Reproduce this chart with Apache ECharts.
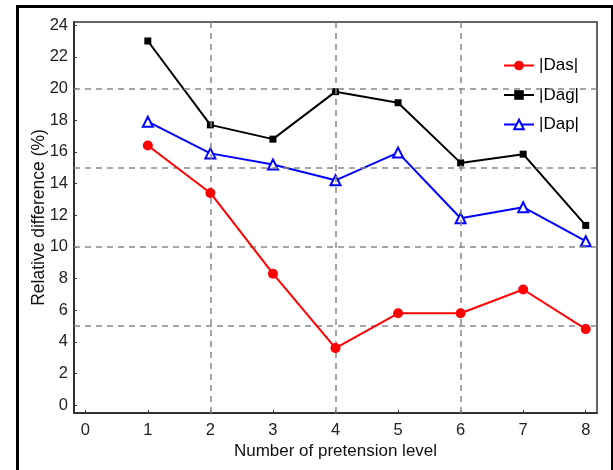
<!DOCTYPE html>
<html>
<head>
<meta charset="utf-8">
<script src="https://cdn.jsdelivr.net/npm/echarts@6/dist/echarts.min.js"></script>
<style>html,body{margin:0;padding:0;background:#fff;}#c{width:613px;height:470px;}</style>
</head>
<body>
<div id="c"></div>
<script>
const levels = [1, 2, 3, 4, 5, 6, 7, 8];
const das = [16.4, 13.4, 8.3, 3.6, 5.8, 5.8, 7.3, 4.8];
const dag = [23.0, 17.7, 16.8, 19.8, 19.1, 15.3, 15.85, 11.35];
const dap = [17.9, 15.9, 15.2, 14.2, 15.95, 11.8, 12.5, 10.35];
const gridX = [2, 4, 6];
const gridY = [5, 10, 15, 20];
const xTicks = [0, 1, 2, 3, 4, 5, 6, 7, 8];
const yTicks = [0, 2, 4, 6, 8, 10, 12, 14, 16, 18, 20, 22, 24];
const seriesNames = ['|Das|', '|Dag|', '|Dap|'];

const chart = echarts.init(document.getElementById('c'));
const pair = (arr) => levels.map((x, i) => [x, arr[i]]);
const font = 'Arial, "Liberation Sans", sans-serif';

chart.setOption({
  animation: false,
  backgroundColor: '#fff',
  graphic: [{
    type: 'rect', left: 15, top: 4, silent: true,
    shape: { width: 595, height: 480 },
    style: { fill: 'none', stroke: '#000', lineWidth: 3 }
  }],
  grid: { left: 74, top: 22, right: 16, bottom: 57, show: true, borderColor: '#333', borderWidth: 1.5, backgroundColor: 'transparent' },
  legend: {
    data: seriesNames, orient: 'vertical', left: 498, top: 52,
    itemWidth: 30, itemHeight: 12, itemGap: 12.5,
    textStyle: { fontFamily: font, fontSize: 17, color: '#000' }
  },
  xAxis: {
    type: 'value', min: -0.18, max: 8.18,
    name: 'Number of pretension level', nameLocation: 'middle', nameGap: 30, nameMoveOverlap: false,
    nameTextStyle: { fontFamily: font, fontSize: 17, color: '#111' },
    axisLine: { onZero: false, lineStyle: { color: '#333', width: 2 } },
    axisTick: { show: true, inside: true, length: 3, lineStyle: { color: '#333' }, customValues: xTicks },
    axisLabel: { fontFamily: font, fontSize: 16.5, color: '#222', margin: 9, customValues: xTicks },
    splitLine: { show: false }
  },
  yAxis: {
    type: 'value', min: -0.5, max: 24.2,
    name: 'Relative difference (%)', nameLocation: 'middle', nameGap: 26, nameMoveOverlap: false,
    nameTextStyle: { fontFamily: font, fontSize: 17.5, color: '#111' },
    axisLine: { onZero: false, lineStyle: { color: '#333', width: 2 } },
    axisTick: { show: true, inside: true, length: 3, lineStyle: { color: '#333' }, customValues: yTicks },
    axisLabel: { fontFamily: font, fontSize: 16.5, color: '#222', margin: 6, customValues: yTicks },
    splitLine: { show: false }
  },
  series: [
    {
      name: 'grid', type: 'line', data: [], silent: true,
      markLine: {
        silent: true, symbol: 'none', label: { show: false },
        lineStyle: { type: [6, 5], color: '#888', width: 1.5 },
        data: gridX.map(v => ({ xAxis: v })).concat(gridY.map(v => ({ yAxis: v })))
      }
    },
    {
      name: seriesNames[0], type: 'line', data: pair(das),
      symbol: 'circle', symbolSize: 10,
      itemStyle: { color: '#ff0000' }, lineStyle: { width: 2, color: '#ff0000' }, z: 5
    },
    {
      name: seriesNames[1], type: 'line', data: pair(dag),
      symbol: 'rect', symbolSize: 7,
      itemStyle: { color: '#000000' }, lineStyle: { width: 2, color: '#000000' }, z: 4
    },
    {
      name: seriesNames[2], type: 'line', data: pair(dap),
      symbol: 'emptyTriangle', symbolSize: 10,
      itemStyle: { color: '#0000ff', borderColor: '#0000ff', borderWidth: 1.5 },
      lineStyle: { width: 2, color: '#0000ff' }, z: 3
    }
  ]
});
</script>
</body>
</html>
